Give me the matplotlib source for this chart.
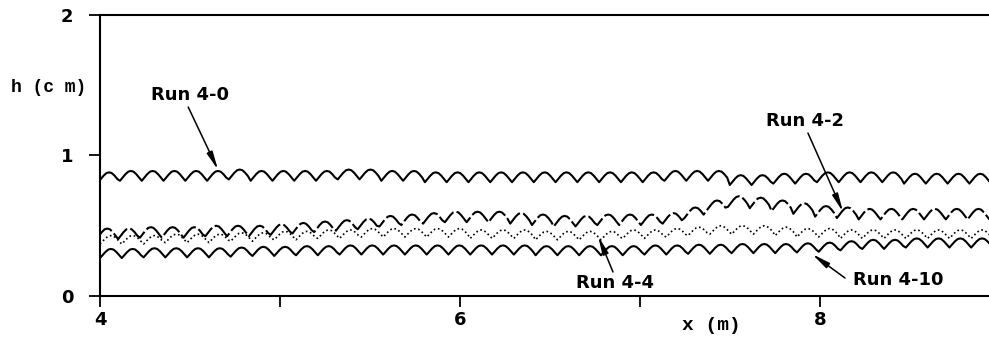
import numpy as np
import matplotlib
matplotlib.use("Agg")
import matplotlib.pyplot as plt

# wave length of the surface undulations (m)
wave_len = 0.121
# x of the first trough for each run (m)
x_start = {"4-0": 3.99, "4-2": 3.98, "4-4": 4.00, "4-10": 4.00}
# trough depth below crest for each run (cm)
depth = {"4-0": 0.07, "4-2": 0.075, "4-4": 0.06, "4-10": 0.065}

# crest height (cm) of each successive wave
crest_40 = [0.88, 0.89, 0.89, 0.89, 0.89, 0.89, 0.90, 0.89, 0.89, 0.89,
            0.89, 0.90, 0.90, 0.89, 0.89, 0.88, 0.88, 0.88, 0.88, 0.88,
            0.88, 0.88, 0.88, 0.88, 0.88, 0.88, 0.89, 0.89, 0.89, 0.86,
            0.86, 0.87, 0.87, 0.88, 0.88, 0.88, 0.88, 0.87, 0.87, 0.87, 0.87]
crest_42 = [0.48, 0.48, 0.49, 0.49, 0.49, 0.50, 0.50, 0.50, 0.51, 0.52,
            0.53, 0.54, 0.55, 0.57, 0.58, 0.59, 0.60, 0.60, 0.60, 0.59,
            0.58, 0.57, 0.57, 0.58, 0.58, 0.58, 0.59, 0.63, 0.68, 0.71,
            0.70, 0.68, 0.66, 0.64, 0.63, 0.62, 0.62, 0.62, 0.62, 0.62, 0.62]
crest_44 = [0.43, 0.43, 0.43, 0.44, 0.44, 0.44, 0.45, 0.45, 0.46, 0.46,
            0.47, 0.47, 0.48, 0.48, 0.48, 0.48, 0.48, 0.47, 0.47, 0.47,
            0.46, 0.46, 0.46, 0.46, 0.47, 0.47, 0.48, 0.49, 0.50, 0.50,
            0.50, 0.49, 0.48, 0.48, 0.47, 0.47, 0.47, 0.47, 0.47, 0.47, 0.47]
crest_410 = [0.335, 0.335, 0.34, 0.34, 0.34, 0.34, 0.345, 0.35, 0.35, 0.355,
             0.355, 0.36, 0.36, 0.36, 0.36, 0.36, 0.36, 0.36, 0.36, 0.36,
             0.355, 0.355, 0.355, 0.355, 0.355, 0.36, 0.36, 0.365, 0.365, 0.37,
             0.37, 0.37, 0.375, 0.38, 0.39, 0.40, 0.40, 0.41, 0.41, 0.41, 0.41]

x_ticks = [4, 5, 6, 7, 8, 9]
x_ticklabels = ["4", "", "6", "", "8", ""]
y_ticks = [0, 1, 2]

# shape of one wave: V trough -> rounded flat crest -> V trough
shape_f = [0.0, 0.12, 0.25, 0.38, 0.5, 0.62, 0.75, 0.88]
shape_dy = [1.0, 0.68, 0.33, 0.07, 0.0, 0.07, 0.33, 0.68]


def wave_line(run, crests):
    xs, ys = [], []
    x0 = x_start[run]
    d = depth[run]
    for k, c in enumerate(crests):
        t = x0 + k * wave_len
        for f, dy in zip(shape_f, shape_dy):
            xs.append(t + f * wave_len)
            ys.append(c - dy * d)
    xs.append(x0 + len(crests) * wave_len)
    ys.append(crests[-1] - d)
    return np.array(xs), np.array(ys)


sans = "DejaVu Sans"
mono = ["Liberation Mono", "DejaVu Sans Mono"]

fig = plt.figure(figsize=(9.89, 3.42), dpi=100)
ax = fig.add_axes([100 / 989, 46 / 342, 900 / 989, 281 / 342])

lw = 1.5
x, y = wave_line("4-0", crest_40)
ax.plot(x, y, color="black", lw=lw)
x, y = wave_line("4-2", crest_42)
ax.plot(x, y, color="black", lw=lw, dashes=(10, 1.5))
x, y = wave_line("4-4", crest_44)
ax.plot(x, y, color="black", lw=1.2, dashes=(1, 1.6))
x, y = wave_line("4-10", crest_410)
ax.plot(x, y, color="black", lw=lw)

ax.set_xlim(4, 9)
ax.set_ylim(0, 2)
ax.spines["right"].set_visible(False)
for s in ["top", "bottom", "left"]:
    ax.spines[s].set_linewidth(1.5)

ax.set_xticks(x_ticks)
ax.set_xticklabels(x_ticklabels)
ax.set_yticks(y_ticks)
ax.tick_params(axis="both", direction="out", length=8, width=1.3, labelsize=13)
ax.tick_params(axis="x", pad=3)
ax.tick_params(axis="y", pad=11)
for lab in ax.get_xticklabels() + ax.get_yticklabels():
    lab.set_family(sans)
    lab.set_fontweight("bold")

fig.text(49 / 989, 1 - 88 / 342, "h (c m)", family=mono, fontweight="bold",
         fontsize=13, ha="center", va="center")
fig.text(711 / 989, 1 - 326 / 342, "x (m)", family=mono, fontweight="bold",
         fontsize=14, ha="center", va="center")

arrow = dict(arrowstyle="-|>,head_length=0.9,head_width=0.15", lw=1.1,
             color="black", shrinkA=0, shrinkB=0, mutation_scale=12)
labels = [
    ("Run 4-0", (4.50, 1.43), (4.49, 1.345), (4.656, 0.897)),
    ("Run 4-2", (7.917, 1.245), (7.933, 1.16), (8.128, 0.598)),
    ("Run 4-4", (6.861, 0.0925), (6.85, 0.171), (6.767, 0.427)),
    ("Run 4-10", (8.433, 0.114), (8.139, 0.128), (7.956, 0.299)),
]
for txt, pos, start, tip in labels:
    ax.text(pos[0], pos[1], txt, family=sans, fontweight="bold",
            fontsize=13, ha="center", va="center")
    ax.annotate("", xy=tip, xytext=start, arrowprops=arrow)

fig.savefig("out.png", dpi=100)
